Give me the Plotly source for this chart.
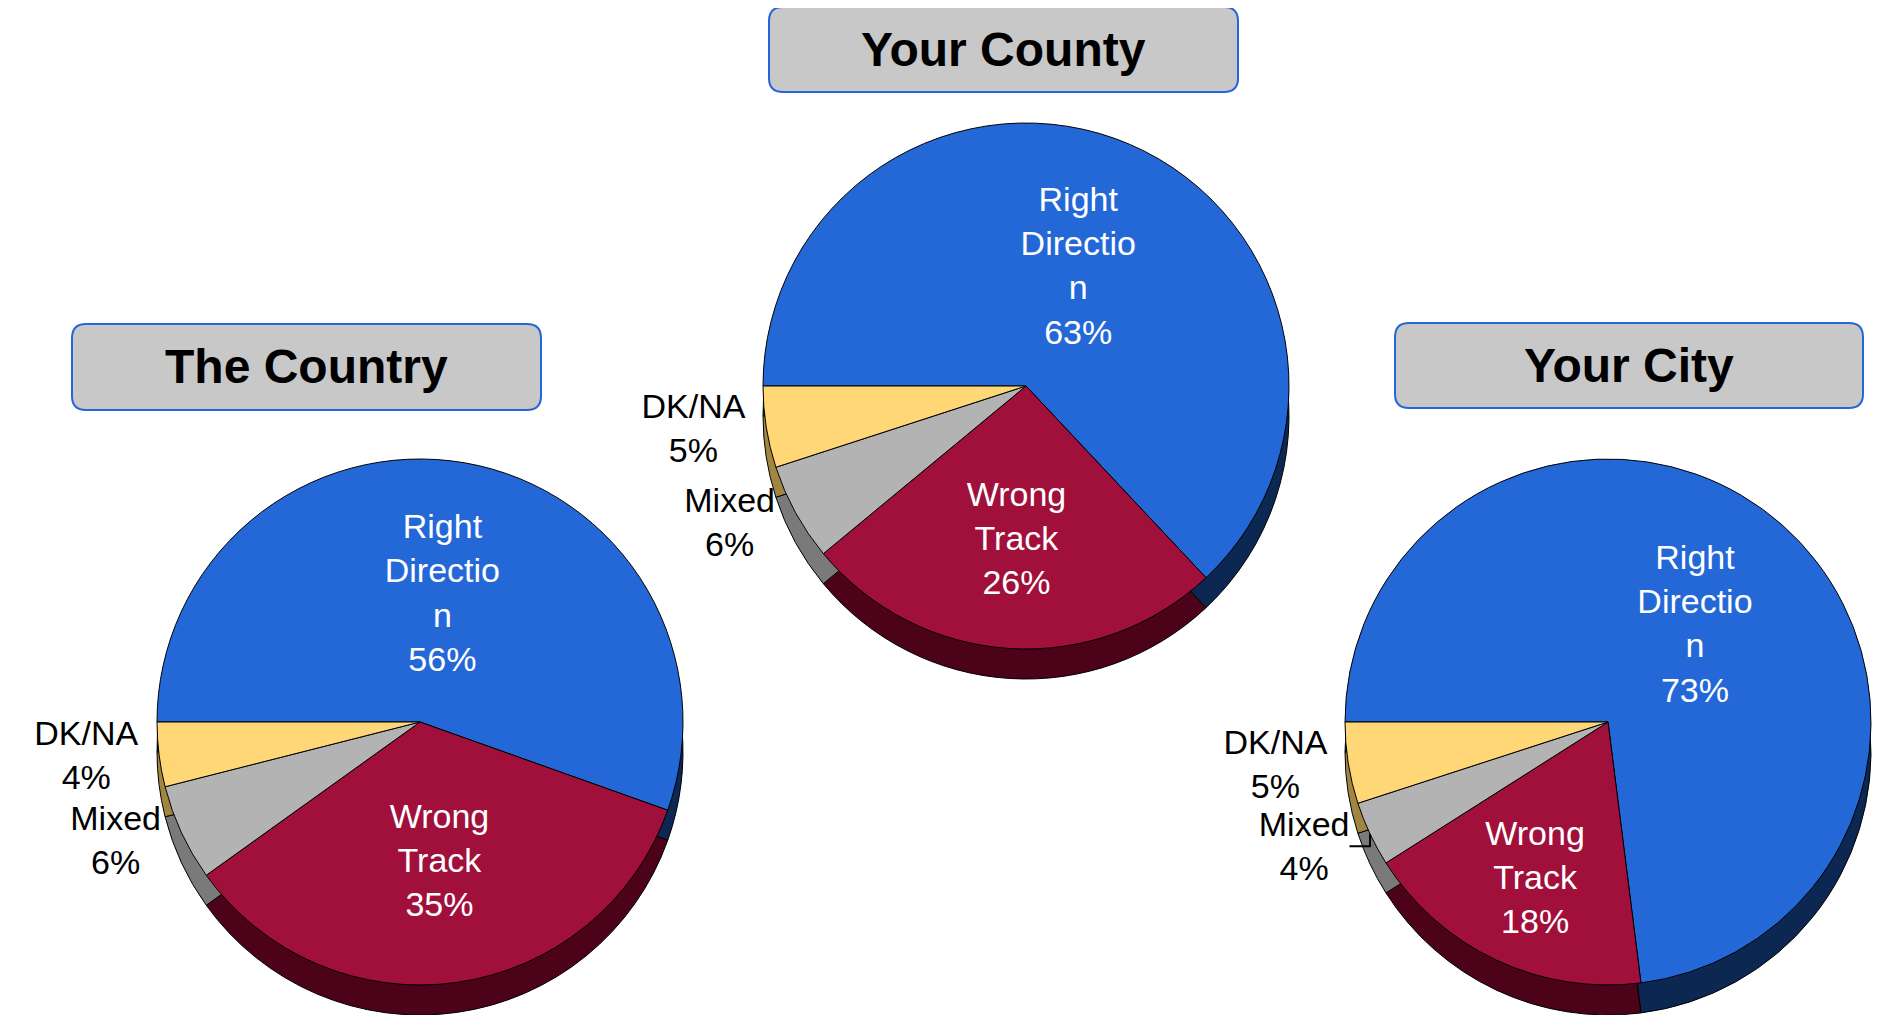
import plotly.graph_objects as go

# ---- data ----
categories = ["Right Direction", "Wrong Track", "Mixed", "DK/NA"]
display_text = ["Right<br>Directio<br>n", "Wrong<br>Track", "Mixed", "DK/NA"]
country_vals = [56, 35, 6, 4]
county_vals = [63, 26, 6, 5]
city_vals = [73, 18, 4, 5]
panel_titles = ["The Country", "Your County", "Your City"]

# ---- styles ----
W, H = 1899, 1015
OFF = 8  # page body margin; positions below are page pixels
top_colors = ["#2468D8", "#A10F3B", "#B3B3B3", "#FFD776"]
side_colors = ["#0C2852", "#4C0319", "#7A7A7A", "#A08640"]
text_pos = ["inside", "inside", "outside", "outside"]
FONT = "Liberation Sans, Arial, sans-serif"

R = 263
DEPTH = 30
# pie centres (page px) and title boxes (page px): x0, y0, x1, y1
panels = [
    dict(vals=country_vals, cx=420, cy=722, box=(72, 324, 541, 410)),
    dict(vals=county_vals, cx=1026, cy=386, box=(769, 7, 1238, 92)),
    dict(vals=city_vals, cx=1608, cy=722, box=(1395, 323, 1863, 408)),
]


def dom(cx, cy, r):
    cx, cy = cx - OFF, cy - OFF
    return dict(x=[max(0, (cx - r) / W), min(1, (cx + r) / W)],
                y=[max(0, 1 - (cy + r) / H), min(1, 1 - (cy - r) / H)])


fig = go.Figure()

# side (depth) layer
for p in panels:
    fig.add_trace(go.Pie(
        labels=categories, values=p["vals"], sort=False, direction="clockwise",
        rotation=-90, domain=dom(p["cx"], p["cy"] + DEPTH, R),
        marker=dict(colors=side_colors, line=dict(color="#000000", width=1)),
        textinfo="none", hoverinfo="skip", showlegend=False,
    ))

# top faces
for p in panels:
    fig.add_trace(go.Pie(
        labels=categories, values=p["vals"], text=display_text,
        sort=False, direction="clockwise", rotation=-90,
        domain=dom(p["cx"], p["cy"], R),
        marker=dict(colors=top_colors, line=dict(color="#000000", width=1)),
        texttemplate="%{text}<br>%{value}%", textposition=text_pos,
        insidetextorientation="horizontal",
        insidetextfont=dict(family=FONT, size=34, color="#FFFFFF"),
        outsidetextfont=dict(family=FONT, size=34, color="#000000"),
        hovertemplate="%{label}: %{value}%<extra></extra>",
        showlegend=False,
    ))


def rounded_path(x0, y0, x1, y1, rad):
    def px(x):
        return (x - OFF) / W

    def py(y):
        return 1 - (y - OFF) / H
    rx, ry = rad / W, rad / H
    X0, X1, Y0, Y1 = px(x0), px(x1), py(y0), py(y1)  # Y0 top, Y1 bottom
    return (f"M {X0 + rx} {Y0} L {X1 - rx} {Y0} Q {X1} {Y0} {X1} {Y0 - ry} "
            f"L {X1} {Y1 + ry} Q {X1} {Y1} {X1 - rx} {Y1} "
            f"L {X0 + rx} {Y1} Q {X0} {Y1} {X0} {Y1 + ry} "
            f"L {X0} {Y0 - ry} Q {X0} {Y0} {X0 + rx} {Y0} Z")


shapes, annotations = [], []
for p, t in zip(panels, panel_titles):
    x0, y0, x1, y1 = p["box"]
    shapes.append(dict(type="path", xref="paper", yref="paper",
                       path=rounded_path(x0, y0, x1, y1, 14),
                       fillcolor="#C8C8C8", line=dict(color="#2466D6", width=2)))
    annotations.append(dict(text=f"<b>{t}</b>", xref="paper", yref="paper",
                            x=((x0 + x1) / 2 - OFF) / W,
                            y=1 - ((y0 + y1) / 2 - OFF) / H,
                            showarrow=False, xanchor="center", yanchor="middle",
                            font=dict(family=FONT, size=48, color="#000000")))

fig.update_layout(
    width=W, height=H, margin=dict(l=0, r=0, t=0, b=0),
    paper_bgcolor="#FFFFFF", plot_bgcolor="#FFFFFF",
    shapes=shapes, annotations=annotations, showlegend=False,
)

fig.write_html("out.html")
